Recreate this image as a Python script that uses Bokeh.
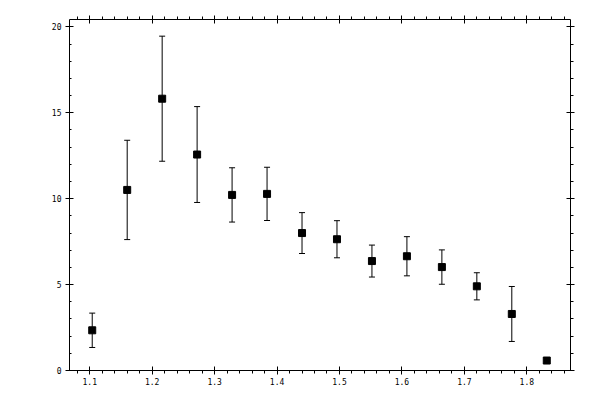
from bokeh.plotting import figure
from bokeh.models import (ColumnDataSource, Whisker, TeeHead, LinearAxis, Range1d,
                          SingleIntervalTicker, PrintfTickFormatter, CustomLabelingPolicy)
from bokeh.embed import file_html
from bokeh.resources import INLINE

x_vals = [1.104, 1.160, 1.216, 1.272, 1.328, 1.384, 1.440, 1.496, 1.552, 1.608, 1.664, 1.720, 1.776, 1.832]
y_vals = [2.34, 10.51, 15.82, 12.57, 10.22, 10.28, 8.00, 7.64, 6.37, 6.65, 6.02, 4.90, 3.29, 0.58]
y_err = [1.00, 2.89, 3.64, 2.79, 1.58, 1.55, 1.19, 1.08, 0.93, 1.14, 1.00, 0.79, 1.60, 0.15]

upper = [y + e for y, e in zip(y_vals, y_err)]
lower = [y - e for y, e in zip(y_vals, y_err)]
src = ColumnDataSource(dict(x=x_vals, y=y_vals, upper=upper, lower=lower))

FONT = "DejaVu Sans Mono"

p = figure(width=596, height=396, output_backend="svg", toolbar_location=None,
           x_range=Range1d(1.0676, 1.8700), y_range=Range1d(0, 20.43),
           x_axis_location=None, y_axis_location=None,
           min_border_left=69, min_border_top=19, min_border_right=26, min_border_bottom=26)
p.xgrid.visible = False
p.ygrid.visible = False
p.outline_line_color = None
p.background_fill_color = "white"
p.border_fill_color = "white"

no_labels = CustomLabelingPolicy(code="""
    for (const i of indices) {
        indices.unset(i)
    }
    return indices
""")


def mk_axis(kind, labels):
    if kind == "x":
        tk = SingleIntervalTicker(interval=0.1, num_minor_ticks=5)
        fmt = PrintfTickFormatter(format="%.1f")
    else:
        tk = SingleIntervalTicker(interval=5, num_minor_ticks=5)
        fmt = PrintfTickFormatter(format="%d")
    ax = LinearAxis(ticker=tk, formatter=fmt)
    ax.axis_line_color = "black"
    ax.axis_line_width = 1
    ax.major_tick_line_color = "black"
    ax.minor_tick_line_color = "black"
    ax.major_tick_in = 4
    ax.major_tick_out = 4
    ax.major_label_text_font = FONT
    ax.major_label_text_font_size = "8px"
    ax.major_label_text_color = "black"
    ax.major_label_standoff = 4
    if not labels:
        ax.major_label_policy = no_labels
    return ax


bottom = mk_axis("x", True)
bottom.minor_tick_in = 0
bottom.minor_tick_out = 3
bottom.major_label_standoff = 3
top = mk_axis("x", False)
top.minor_tick_in = 0
top.minor_tick_out = 3
left = mk_axis("y", True)
left.minor_tick_in = 2
left.minor_tick_out = 0
right = mk_axis("y", False)
right.minor_tick_in = 0
right.minor_tick_out = 3

p.add_layout(bottom, "below")
p.add_layout(top, "above")
p.add_layout(left, "left")
p.add_layout(right, "right")

wh = Whisker(base="x", upper="upper", lower="lower", source=src,
             line_color="black", line_width=1,
             upper_head=TeeHead(size=6, line_color="black", line_width=1),
             lower_head=TeeHead(size=6, line_color="black", line_width=1))
p.add_layout(wh)

p.scatter("x", "y", source=src, marker="square", size=7,
          fill_color="black", line_color="black")

open("out.html", "w").write(file_html(p, INLINE))
